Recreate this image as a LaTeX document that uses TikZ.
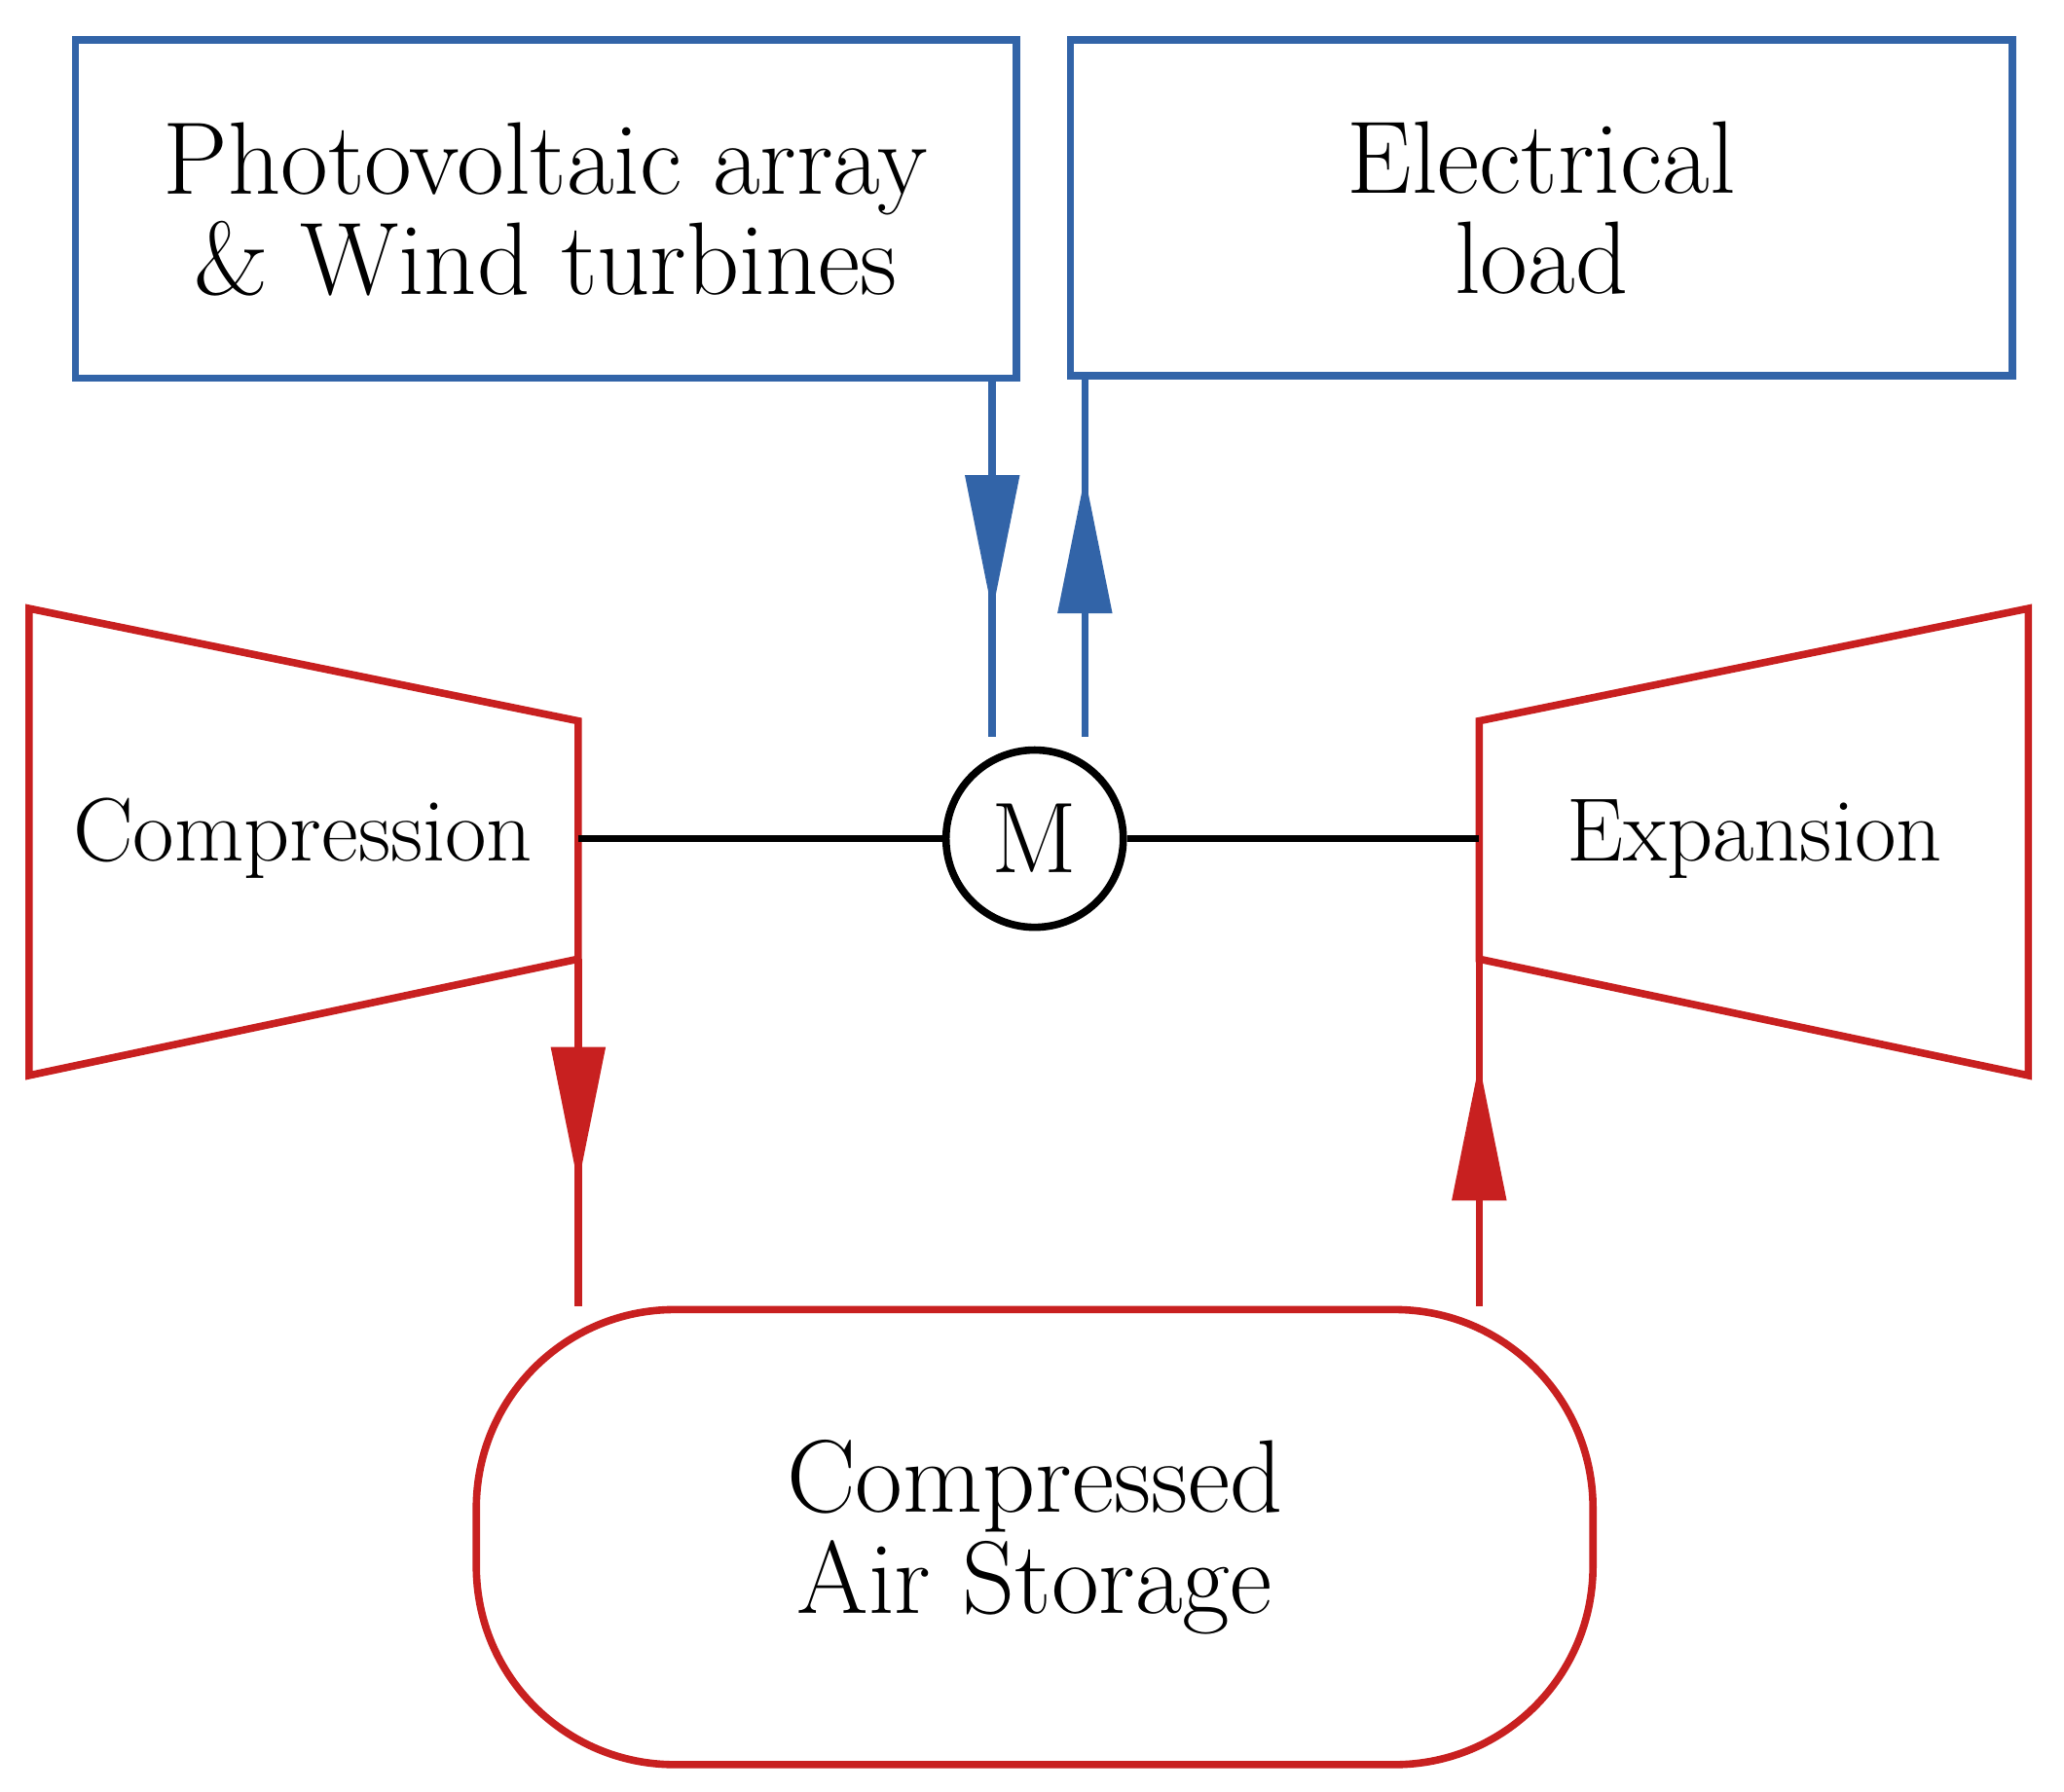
\documentclass[tikz,border=0pt]{standalone}
\usetikzlibrary{arrows.meta,decorations.markings,shapes.geometric}
\definecolor{eblue}{RGB}{50,100,168}
\definecolor{ered}{RGB}{200,32,32}
\begin{document}
\begin{tikzpicture}[x=0.5pt,y=-0.5pt,
  lw/.style={line width=2.8pt},
  box/.style={draw=eblue,lw,inner sep=0,align=center,font=\fontsize{39}{38}\selectfont},
  midarrow/.style={postaction={decorate},decoration={markings,mark=at position #1 with {\arrow{Triangle[length=52pt,width=20pt]}}}},
  trap/.style={draw=ered,lw,line join=miter}]
\useasboundingbox (0,0) rectangle (1560,1354);
\node[box,minimum width=355.5pt,minimum height=128pt] (pv) at (412.5,158) {Photovoltaic array\\\& Wind turbines};
\node[box,minimum width=356pt,minimum height=127pt] (load) at (1165,157) {Electrical\\load};
\node[draw,lw,circle,minimum size=67pt,inner sep=0,font=\fontsize{38}{38}\selectfont] (m) at (782,634) {M};
\draw[trap] (22,460) -- (437,545) -- (437,725) -- (22,813) -- cycle;
\draw[trap] (1533,460) -- (1118,545) -- (1118,725) -- (1533,813) -- cycle;
\node[font=\fontsize{34}{33}\selectfont] (comp) at (229,634) {Compression};
\node[font=\fontsize{34}{33}\selectfont] (exp) at (1326,634) {Expansion};
\coordinate (cs) at (437,634); \coordinate (es) at (1118,634);
\coordinate (cb) at (437,725); \coordinate (eb) at (1118,725);
\node[draw=ered,lw,rounded corners=75pt,minimum width=422pt,minimum height=172pt,align=center,font=\fontsize{39}{38}\selectfont] (st) at (782,1162) {Compressed\\Air Storage};
\draw[lw] (cs) -- (m.west);
\draw[lw] (m.east) -- (es);
\coordinate (m1) at (750,557); \coordinate (m2) at (820,557);
\draw[eblue,lw,midarrow=0.65] (pv.south -| m1) -- (m1);
\draw[eblue,lw,midarrow=0.73] (m2) -- (load.south -| m2);
\draw[ered,lw,midarrow=0.65] (cb) -- (st.north -| cb);
\draw[ered,lw,midarrow=0.7] (st.north -| eb) -- (eb);
\end{tikzpicture}
\end{document}
